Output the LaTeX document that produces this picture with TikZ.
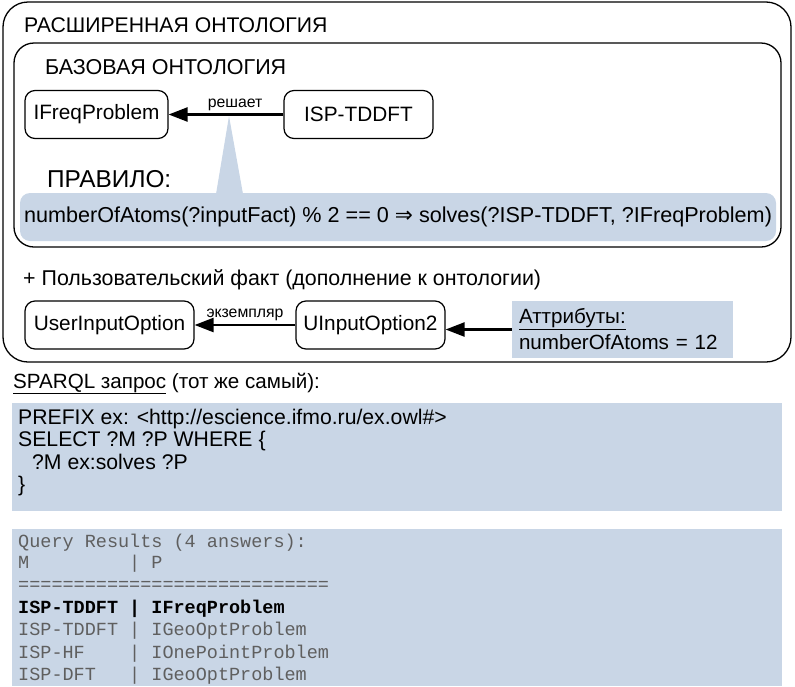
\documentclass[tikz,border=0pt]{standalone}
\usepackage{fontspec}
\setmainfont{Liberation Sans}
\setmonofont{Liberation Mono}
\newfontfamily\symfont{DejaVu Sans}
\usetikzlibrary{arrows.meta}
\definecolor{notefill}{RGB}{201,214,230}
\definecolor{resgray}{RGB}{95,95,95}
\newcommand{\fs}[1]{\fontsize{#1}{#1}\selectfont}
\begin{document}
\begin{tikzpicture}[x=1pt,y=-1pt,
  frame/.style={draw,line width=1.3pt,rounded corners=#1},
  class node/.style={draw,line width=1.2pt,rounded corners=10pt,minimum height=48pt,inner sep=0pt,font=\fs{20.8}},
  rel/.style={-{Triangle[length=19pt,width=14pt]},line width=2.4pt},
  rel label/.style={above,font=\fs{15.8},inner sep=3pt},
  title/.style={anchor=base west,inner sep=0pt,font=\fs{21.2}},
  note/.style={fill=notefill,inner sep=0pt},
  code/.style={anchor=base west,inner sep=0pt,font=\fs{21.2}},
  result/.style={anchor=base west,inner sep=0pt,font=\ttfamily\fs{18.5},text=resgray}]
\useasboundingbox (0,0) rectangle (795,686);

% ontology frames
\draw[frame=25pt] (3,2) rectangle (791,362);
\draw[frame=20pt] (14,43) rectangle (781,247);
\node[title] at (24,32) (extlabel) {РАСШИРЕННАЯ ОНТОЛОГИЯ};
\node[title,font=\fs{21.5}] at (45,74) (baselabel) {БАЗОВАЯ ОНТОЛОГИЯ};

% base ontology
\node[class node,minimum width=143pt] at (96.5,114.5) (ifreq) {IFreqProblem};
\node[class node,minimum width=149pt] at (358.5,114.5) (tddft) {ISP-TDDFT};
\coordinate (ruletip) at (229,116);
\fill[notefill] (216,194) -- (ruletip) -- (243,194) -- cycle;
\draw[rel] (tddft) -- node[rel label,pos=0.42] {решает} (ifreq);

% rule
\node[title,font=\fs{24.4}] at (47,187) (rulelabel) {ПРАВИЛО:};
\node[note,rounded corners=10pt,minimum width=756pt,minimum height=48pt,font=\fs{21.6}]
  at (398,217) (rule) {numberOfAtoms(?inputFact) \% 2 == 0 {\symfont ⇒} solves(?ISP-TDDFT, ?IFreqProblem)};

% user fact
\node[title,font=\fs{21.4}] at (23,285) (factlabel) {+ Пользовательский факт (дополнение к онтологии)};
\node[class node,minimum width=169pt] at (109.5,325) (userclass) {UserInputOption};
\node[class node,minimum width=149pt] at (370.5,325) (userinst) {UInputOption2};
\draw[rel] (userinst) -- node[rel label] {экземпляр} (userclass);
\node[note,minimum width=221pt,minimum height=57pt,text width=207pt,align=left,font=\fontsize{20.6}{26}\selectfont]
  at (622.5,329.5) (attrs) {\underline{Аттрибуты:}\\numberOfAtoms = 12};
\draw[rel] (attrs.west) -- (attrs.west -| userinst.east);

% query
\node[title,font=\fs{20.6}] at (13,388) (sparqllabel) {\underline{SPARQL запрос} (тот же самый):};
\node[note,minimum width=770pt,minimum height=108pt] at (397,457) (query) {};
\node[code] at (18,424) (q1) {PREFIX ex: <http://escience.ifmo.ru/ex.owl\#>};
\node[code] at (18,446) (q2) {SELECT ?M ?P WHERE \{};
\node[code] at (32,469) (q3) {?M ex:solves ?P};
\node[code] at (18,491) (q4) {\}};

% results
\node[note,minimum width=770pt,minimum height=157pt] at (397,607.5) (results) {};
\node[result] at (18,547) (r1) {Query Results (4 answers):};
\node[result] at (18,568) (r2) {M\ \ \ \ \ \ \ \ \ | P};
\node[result] at (18,590) (r3) {============================};
\node[result,text=black,font=\ttfamily\bfseries\fs{18.5}] at (18,613) (r4) {ISP-TDDFT | IFreqProblem};
\node[result] at (18,635) (r5) {ISP-TDDFT | IGeoOptProblem};
\node[result] at (18,658) (r6) {ISP-HF\ \ \ \ | IOnePointProblem};
\node[result] at (18,680) (r7) {ISP-DFT\ \ \ | IGeoOptProblem};
\end{tikzpicture}
\end{document}
